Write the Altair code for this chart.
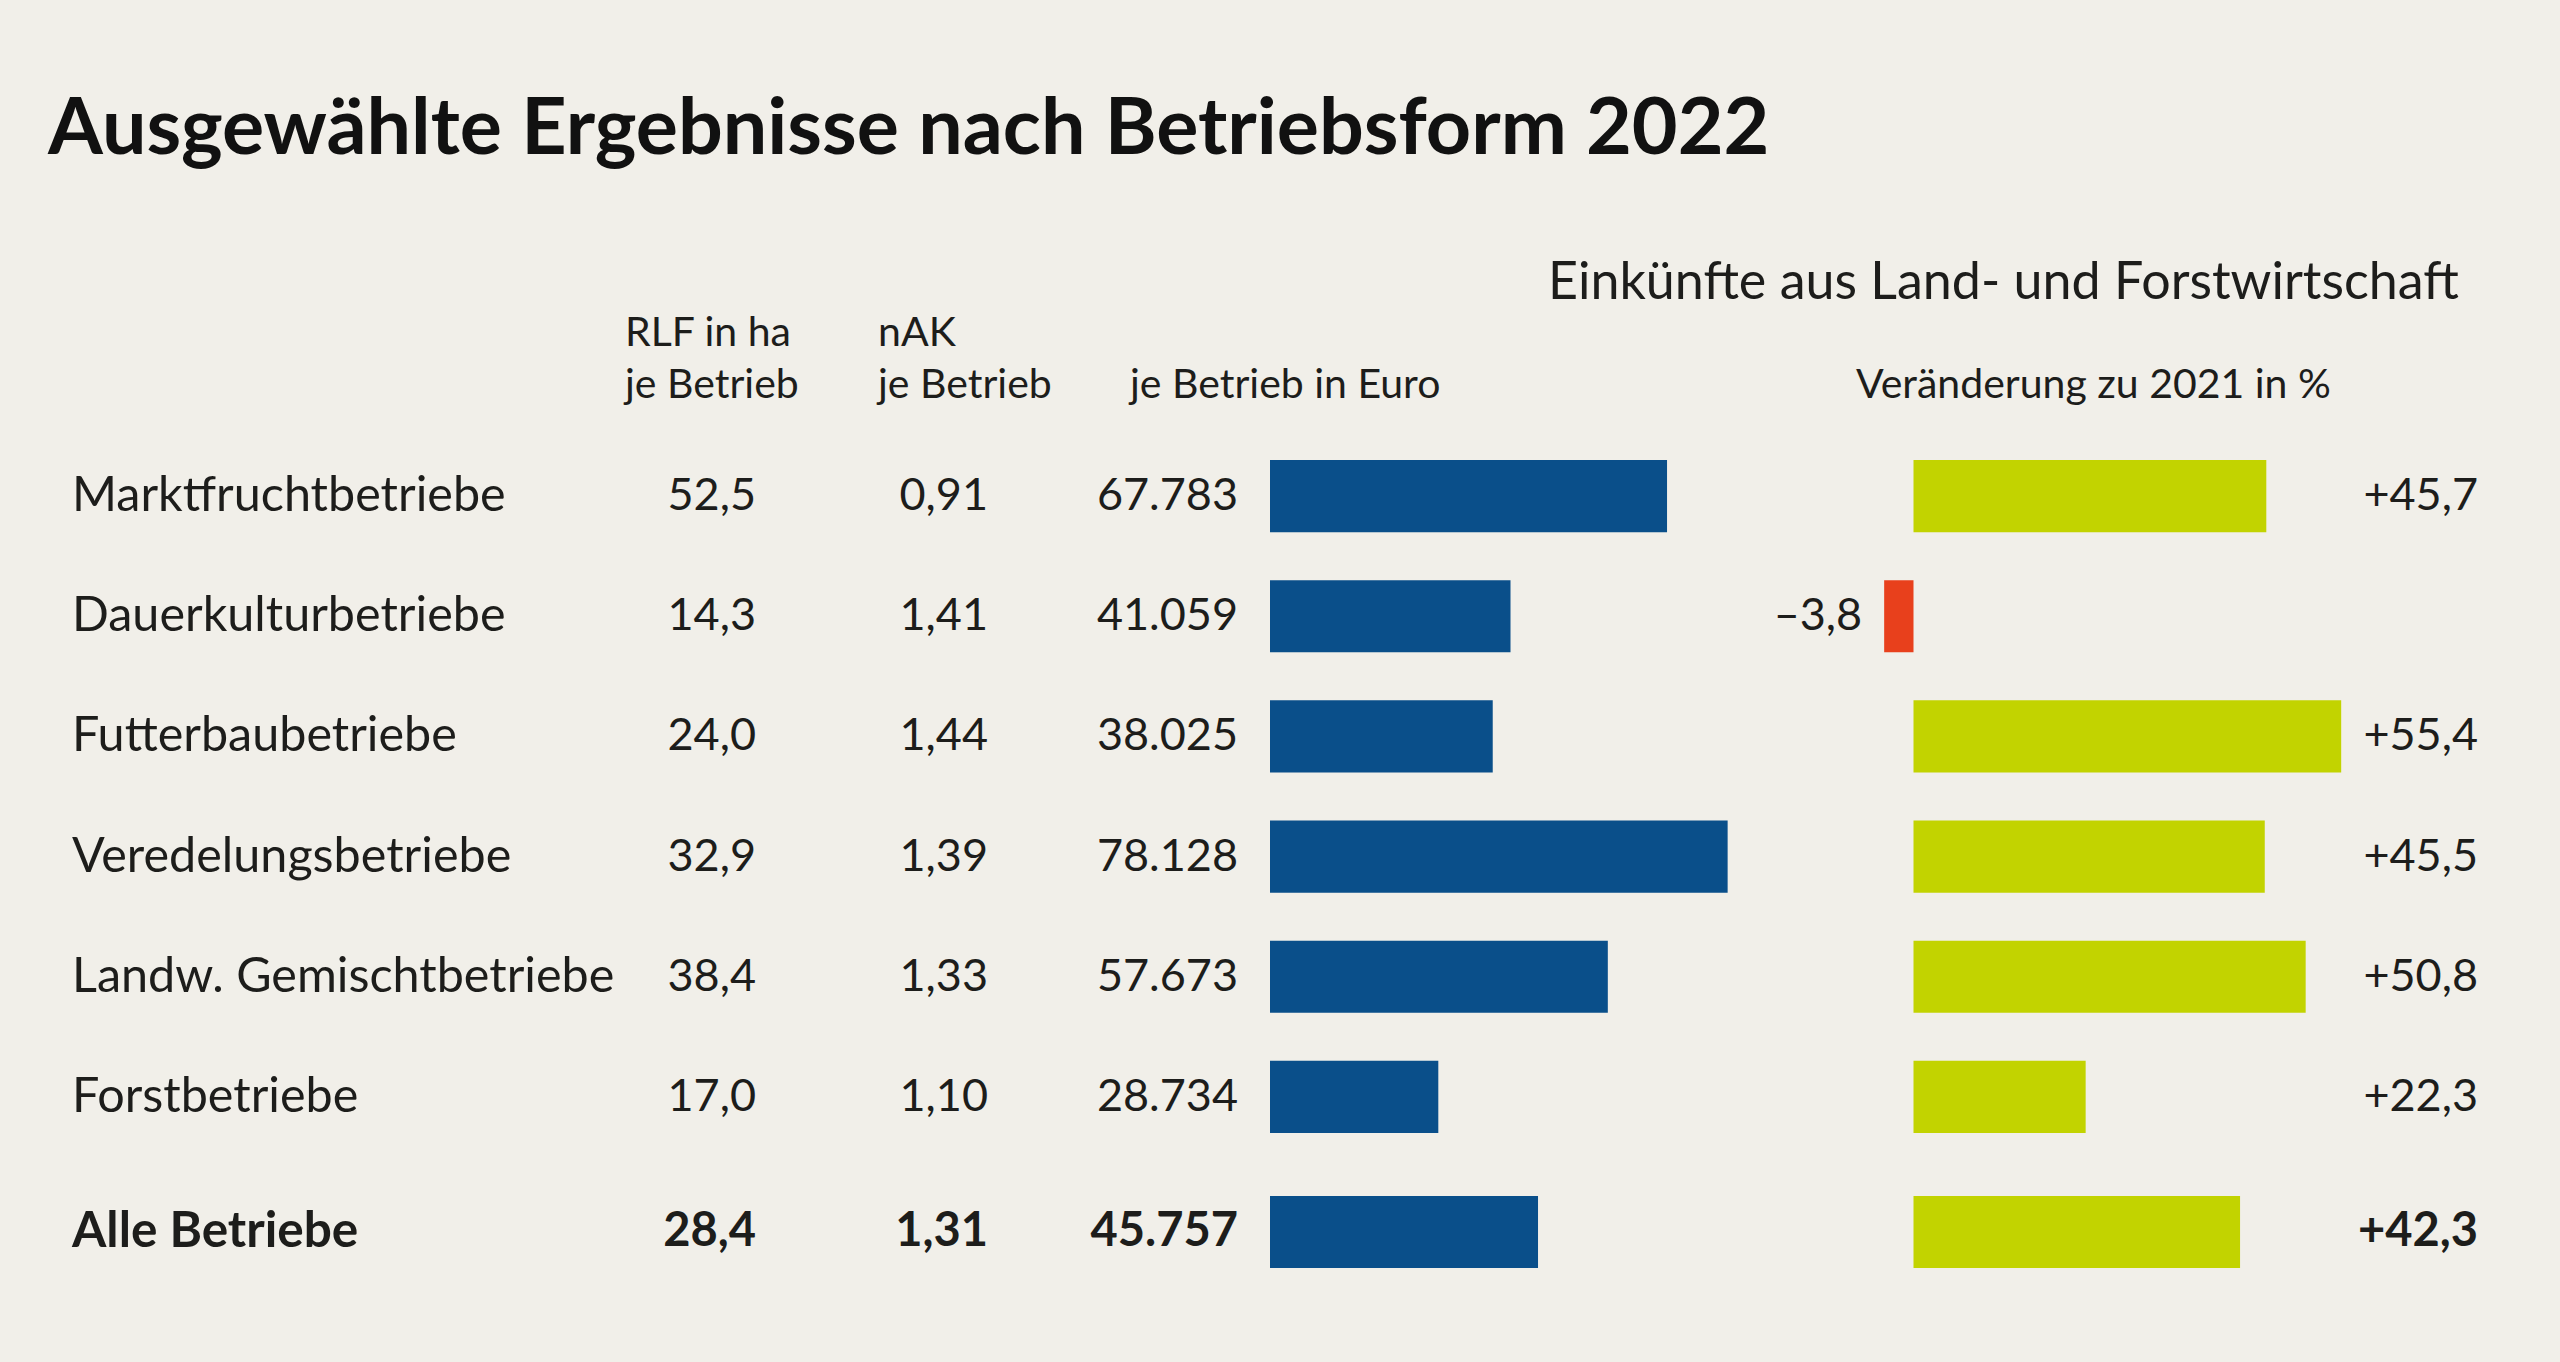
import altair as alt
import pandas as pd

# ---- data ----
categories = ["Marktfruchtbetriebe", "Dauerkulturbetriebe", "Futterbaubetriebe",
              "Veredelungsbetriebe", "Landw. Gemischtbetriebe", "Forstbetriebe",
              "Alle Betriebe"]
rlf_ha = [52.5, 14.3, 24.0, 32.9, 38.4, 17.0, 28.4]
nak = [0.91, 1.41, 1.44, 1.39, 1.33, 1.10, 1.31]
euro = [67783, 41059, 38025, 78128, 57673, 28734, 45757]
change_pct = [45.7, -3.8, 55.4, 45.5, 50.8, 22.3, 42.3]

title_text = "Ausgewählte Ergebnisse nach Betriebsform 2022"
header_einkuenfte = "Einkünfte aus Land- und Forstwirtschaft"
header_rlf = ["RLF in ha", "je Betrieb"]
header_nak = ["nAK", "je Betrieb"]
header_euro = "je Betrieb in Euro"
header_change = "Veränderung zu 2021 in %"


def de_num(v, dec):
    s = f"{abs(v):,.{dec}f}".replace(",", "X").replace(".", ",").replace("X", ".")
    return s


df = pd.DataFrame({
    "cat": categories,
    "rlf": rlf_ha,
    "nak": nak,
    "euro": euro,
    "chg": change_pct,
})
df["rlf_lbl"] = [de_num(v, 1) for v in df["rlf"]]
df["nak_lbl"] = [de_num(v, 2) for v in df["nak"]]
df["euro_lbl"] = [de_num(v, 0) for v in df["euro"]]
df["chg_lbl"] = [("+" if v >= 0 else "–") + de_num(v, 1) for v in df["chg"]]
df["sign"] = ["pos" if v >= 0 else "neg" for v in df["chg"]]

main_df = df.iloc[:6]
total_df = df.iloc[6:]

FONT = "Lato"
TXT = "#1d1d1b"
BG = "#f1efe9"
BLUE = "#0a4f8a"
GREEN = "#c2d300"
RED = "#e8401c"

euro_scale = alt.Scale(domain=[0, 80000], range=[1270, 1738.6], zero=True, nice=False)
chg_scale = alt.Scale(domain=[-10, 60], range=[1836.3, 2376.7], zero=True, nice=False)


def row_layers(data, y_range, weight, name_size, num_size):
    cats = list(data["cat"])
    yscale = alt.Scale(type="band", domain=cats, range=y_range,
                       paddingInner=0.4, paddingOuter=0.2)
    Y = alt.Y("cat:N", scale=yscale, axis=None, sort=cats)
    base = alt.Chart(data)
    common = dict(font=FONT, color=TXT, baseline="middle", fontWeight=weight)
    name = base.mark_text(align="left", fontSize=name_size, **common).encode(
        y=Y, x=alt.value(72), text="cat:N")
    rlf = base.mark_text(align="right", fontSize=num_size, **common).encode(
        y=Y, x=alt.value(756), text="rlf_lbl:N")
    nakt = base.mark_text(align="right", fontSize=num_size, **common).encode(
        y=Y, x=alt.value(988), text="nak_lbl:N")
    eurt = base.mark_text(align="right", fontSize=num_size, **common).encode(
        y=Y, x=alt.value(1238), text="euro_lbl:N")
    ebar = base.mark_bar(color=BLUE).encode(
        y=Y, x=alt.X("euro:Q", scale=euro_scale, axis=None))
    chg_layers = alt.layer(
        base.mark_bar().encode(
            y=Y, x=alt.X("chg:Q", scale=chg_scale, axis=None),
            color=alt.Color("sign:N", scale=alt.Scale(domain=["pos", "neg"], range=[GREEN, RED]),
                            legend=None)),
        base.transform_filter("datum.chg < 0").mark_text(
            align="right", dx=-22, fontSize=num_size, **common).encode(
            y=Y, x=alt.X("chg:Q", scale=chg_scale, axis=None), text="chg_lbl:N"),
    )
    pos_lbl = base.transform_filter("datum.chg >= 0").mark_text(
        align="right", fontSize=num_size, **common).encode(
        y=Y, x=alt.value(2478), text="chg_lbl:N")
    return alt.layer(name, rlf, nakt, eurt, pos_lbl, ebar, chg_layers).resolve_scale(x="independent")


main = row_layers(main_df, [436, 1157], "normal", 48.5, 45)
total = row_layers(total_df, [1172, 1292], "bold", 49.5, 47)

hdr = alt.Chart(pd.DataFrame({"a": [0]}))
hstyle = dict(font=FONT, color=TXT, baseline="middle", align="left")
headers = alt.layer(
    hdr.mark_text(fontSize=52, **hstyle, text=header_einkuenfte).encode(
        x=alt.value(1548), y=alt.value(283)),
    hdr.mark_text(fontSize=41, **hstyle, text=header_rlf[0]).encode(x=alt.value(625), y=alt.value(334)),
    hdr.mark_text(fontSize=41, **hstyle, text=header_rlf[1]).encode(x=alt.value(625), y=alt.value(386)),
    hdr.mark_text(fontSize=41, **hstyle, text=header_nak[0]).encode(x=alt.value(878), y=alt.value(334)),
    hdr.mark_text(fontSize=41, **hstyle, text=header_nak[1]).encode(x=alt.value(878), y=alt.value(386)),
    hdr.mark_text(fontSize=41, **hstyle, text=header_euro).encode(x=alt.value(1130), y=alt.value(386)),
    hdr.mark_text(fontSize=41, **hstyle, text=header_change).encode(x=alt.value(1856), y=alt.value(386)),
)

chart = alt.layer(main, total, headers).resolve_scale(x="independent", y="independent").properties(
    width=2560, height=1362,
    autosize=alt.AutoSizeParams(type="none"),
    padding=0,
    background=BG,
    title=alt.TitleParams(title_text, anchor="start", frame="group", orient="top",
                          offset=0, dx=48, dy=233, baseline="alphabetic",
                          font=FONT, fontSize=79, fontWeight="bold", color="#111111"),
).configure_view(stroke=None)

chart.save("out.html", embed_options={"renderer": "svg", "actions": False})
